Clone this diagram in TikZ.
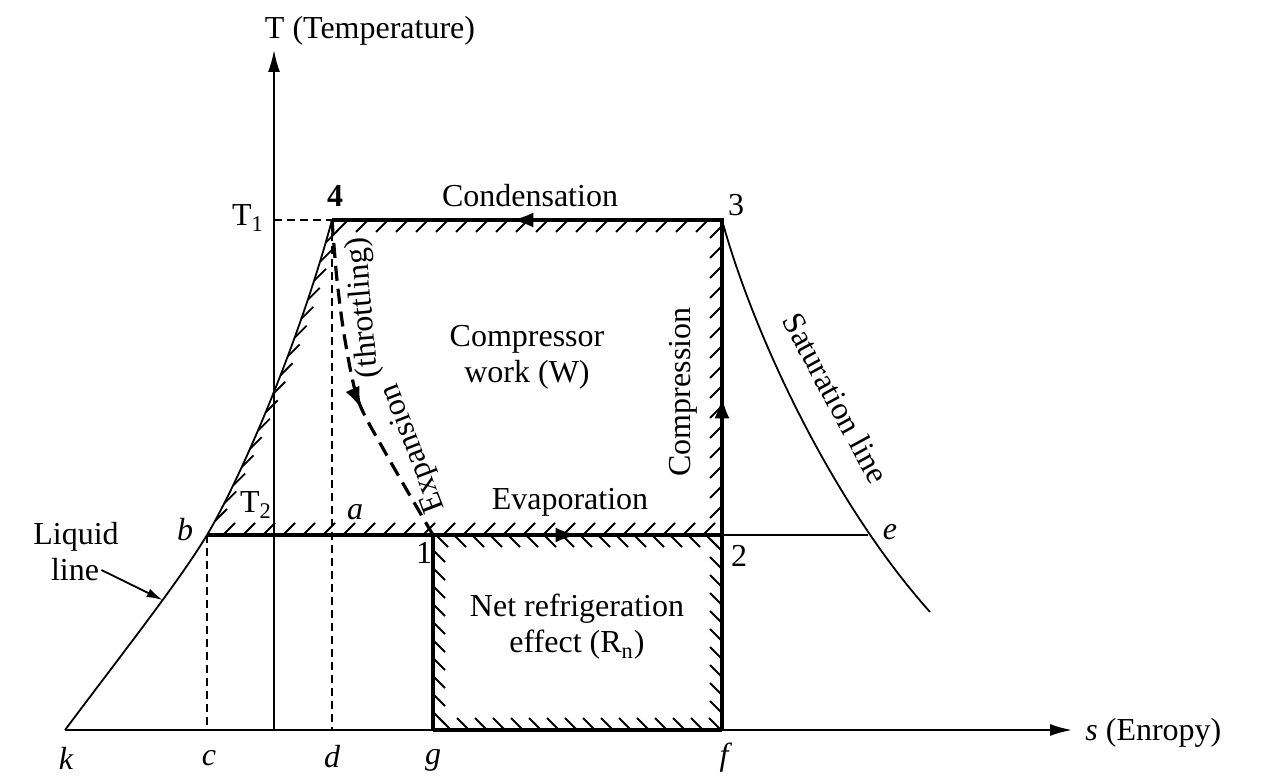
\documentclass[tikz,border=0pt]{standalone}
\usepackage{fontspec}
\setmainfont{Liberation Serif}
\usetikzlibrary{arrows.meta,calc,decorations.markings}

\tikzset{
  lbl/.style={font=\fontsize{16}{18}\selectfont, inner sep=1pt},
  ilbl/.style={lbl, font=\fontsize{16}{18}\selectfont\itshape},
  axis/.style={line width=1pt, -{Latex[length=11pt,width=6pt]}},
  cyc/.style={line width=1.7pt},
  thinline/.style={line width=0.9pt},
  dashline/.style={line width=0.8pt, dash pattern=on 4pt off 2.5pt},
  expline/.style={line width=1.6pt, dash pattern=on 7.5pt off 4pt},
  tip/.style={-{Latex[length=11pt,width=7.5pt]}},
  hatch/.style 2 args={postaction={decorate, decoration={markings,
      mark=between positions 8pt and -8pt step #2 with {\pgftransformresetnontranslations
        \draw[line width=0.9pt] (0pt,0pt) -- #1;}}}},
  marrow/.style={postaction={decorate, decoration={markings,
      mark=at position #1 with {\arrow{Latex[length=11pt,width=7.5pt]}}}}}
}

\begin{document}
\begin{tikzpicture}[x=0.5pt,y=-0.5pt]
  \useasboundingbox (0,0) rectangle (1280,780);

  % points of the cycle
  \coordinate (o)    at (274,730);
  \coordinate (ttop) at (274,50);
  \coordinate (send) at (1072,730);
  \coordinate (k)    at (65,730);
  \coordinate (c)    at (207,730);
  \coordinate (d)    at (332,730);
  \coordinate (g)    at (433,730);
  \coordinate (f)    at (722,730);
  \coordinate (b)    at (207,535);
  \coordinate (p1)   at (433,535);
  \coordinate (p2)   at (722,535);
  \coordinate (e)    at (868,535);
  \coordinate (p4)   at (332,220);
  \coordinate (p3)   at (722,220);
  \coordinate (t1)   at (274,220);
  \coordinate (satend) at (930,612);

  % axes
  \draw[axis] (o) -- (ttop);
  \draw[axis] (k) -- (send);

  % dashed guides
  \draw[dashline] (t1) -- (p4);
  \draw[dashline] (p4) -- (d);
  \draw[dashline] (b) -- (c);

  % liquid and saturation lines
  \draw[thinline] (k) .. controls (125,650) and (180,580) .. coordinate[pos=0.6] (lq) (b);
  \draw[thinline, hatch={(6pt,6pt)}{10pt}] (b) .. controls (237,485) and (297,350) .. (p4);
  \draw[thinline] (p3) .. controls (752,330) and (830,500) .. (satend);

  % cycle
  \draw[cyc, hatch={(-6pt,-6pt)}{10pt}] (p4) -- (p3) -- (p2);
  \draw[cyc, hatch={(6pt,6pt)}{10pt}] (b) -- (p2);
  \draw[thinline] (p2) -- (e);
  \draw[cyc] (p1) -- (g);
  \draw[cyc] (p2) -- (f);
  \draw[cyc] (g) -- (f);
  \path[hatch={(6pt,-6pt)}{9pt}] (p2) -- (p1) -- (g);
  \path[hatch={(-6pt,6pt)}{9pt}] (p2) -- (f) -- (g);
  \draw[expline, marrow=0.57] plot[smooth] coordinates {(p4) (337,280) (345,340) (358,400) (385,452) (p1)};

  % arrows on the cycle
  \draw[cyc, tip] (p3) -- ($(p3)!0.54!(p4)$);
  \draw[cyc, tip] (p1) -- ($(p1)!0.5!(p2)$);
  \draw[cyc, tip] (p2) -- ($(p2)!0.44!(p3)$);

  % labels
  \node[lbl] (tlab) at (370,31) {T (Temperature)};
  \node[lbl, anchor=west] (slab) at (1083,733) {\textit{s} (Enropy)};
  \node[lbl] (t1lab) at (248,218) {T\textsubscript{1}};
  \node[lbl] (t2lab) at (256,505) {T\textsubscript{2}};
  \node[lbl] (l4) at (335,196) {\textbf{4}};
  \node[lbl] (l3) at (736,205) {3};
  \node[lbl] (l1) at (424,553) {1};
  \node[lbl] (l2) at (739,556) {2};
  \node[lbl] (cond) at (530,196) {Condensation};
  \node[lbl] (evap) at (570,502) {Evaporation};
  \node[lbl, align=center] (work) at (527,357) {Compressor\\work (W)};
  \node[lbl, align=center] (netr) at (577,627) {Net refrigeration\\effect (R\textsubscript{n})};
  \node[lbl, rotate=90] (comp) at (683,392) {Compression};
  \node[lbl, rotate=-61.5] (satl) at (836,398) {Saturation line};
  \node[lbl, rotate=111] (expn) at (414,448) {Expansion};
  \node[lbl, rotate=95] (thr) at (364,308) {(throttling)};
  \node[lbl] (liquid) at (76,537) {Liquid};
  \node[lbl] (liqline) at (75,570) {line};
  \draw[line width=0.9pt, -{Latex[length=8pt,width=4.5pt]}] (liqline.east) -- (lq);

  \node[ilbl] (la) at (355,512) {a};
  \node[ilbl] (lb) at (185,530) {b};
  \node[ilbl] (le) at (890,532) {e};
  \node[ilbl] (lk) at (66,758) {k};
  \node[ilbl] (lc) at (209,758) {c};
  \node[ilbl] (ld) at (332,757) {d};
  \node[ilbl] (lg) at (433,760) {g};
  \node[ilbl] (lf) at (724,758) {f};
\end{tikzpicture}
\end{document}
